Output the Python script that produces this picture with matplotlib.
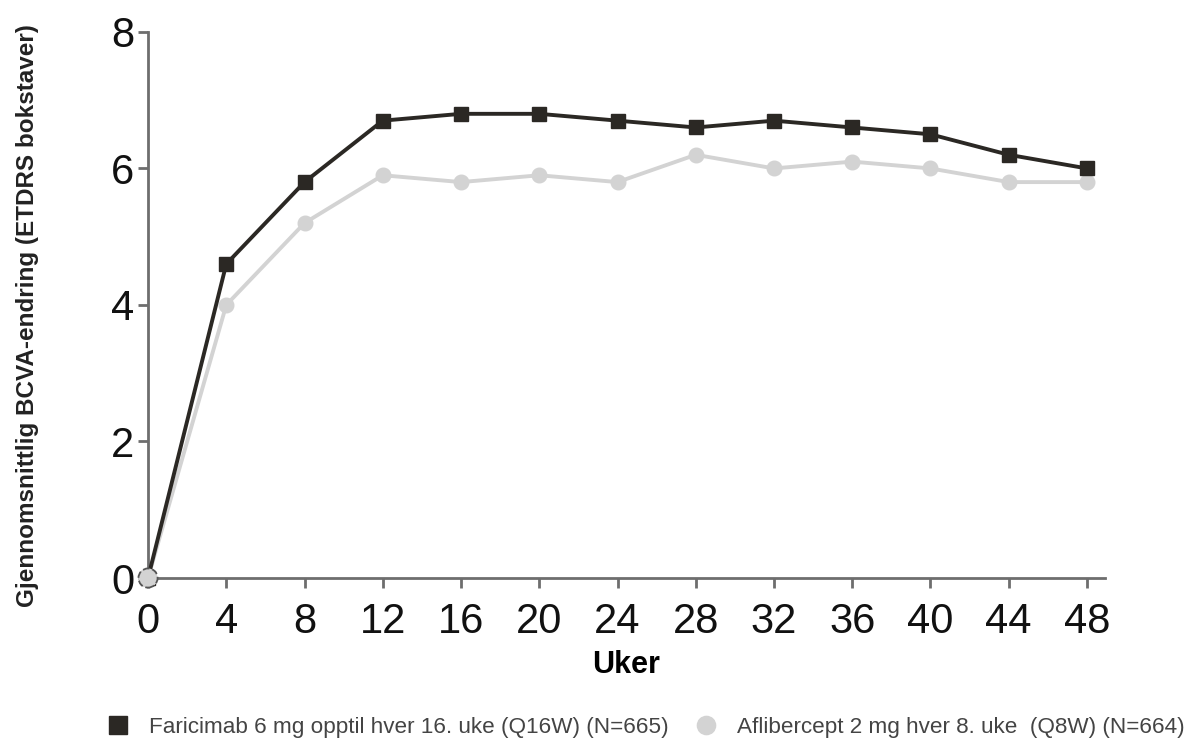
import matplotlib.pyplot as plt
import numpy as np

plt.rcParams['font.family'] = ['Liberation Sans', 'DejaVu Sans']

uker = [0, 4, 8, 12, 16, 20, 24, 28, 32, 36, 40, 44, 48]
faricimab = [0, 4.6, 5.8, 6.7, 6.8, 6.8, 6.7, 6.6, 6.7, 6.6, 6.5, 6.2, 6.0]
aflibercept = [0, 4.0, 5.2, 5.9, 5.8, 5.9, 5.8, 6.2, 6.0, 6.1, 6.0, 5.8, 5.8]

lab_far = 'Faricimab 6 mg opptil hver 16. uke (Q16W) (N=665)'
lab_afl = 'Aflibercept 2 mg hver 8. uke  (Q8W) (N=664)'

fig = plt.figure(figsize=(11.89, 7.42), dpi=100)
ax = fig.add_axes([0.1245, 0.221, 0.8045, 0.736])

ax.plot(uker, aflibercept, color='#d3d3d3', lw=2.8, marker='o', ms=10.5,
        label=lab_afl, zorder=2, clip_on=False)
ax.plot(uker, faricimab, color='#2b2824', lw=2.8, marker='s', ms=10.5,
        label=lab_far, zorder=3, clip_on=False)
# startpunkt: grå sirkel med stiplet kant
ax.scatter([uker[0]], [aflibercept[0]], s=190, color='#d3d3d3',
           edgecolors='#555555', linestyles='--', linewidths=1.3, zorder=4,
           clip_on=False)

ax.set_xlim(0, 48.9)
ax.set_ylim(0, 8)
ax.set_xticks(uker)
ax.set_yticks([0, 2, 4, 6, 8])
for s in ['top', 'right']:
    ax.spines[s].set_visible(False)
for s in ['left', 'bottom']:
    ax.spines[s].set_color('#6e6e6e')
    ax.spines[s].set_linewidth(2)
ax.tick_params(axis='both', labelsize=30, colors='#6e6e6e', width=2,
               length=7, labelcolor='#111111')
ax.tick_params(axis='x', pad=10)
ax.tick_params(axis='y', pad=3)

ax.set_xlabel('Uker', fontsize=22, fontweight='bold', labelpad=6)
ax.set_ylabel('Gjennomsnittlig BCVA-endring (ETDRS bokstaver)',
              fontsize=17.5, fontweight='bold')
ax.yaxis.set_label_coords(-0.114, 0.48)
ax.yaxis.label.set_color('#222222')

h, l = ax.get_legend_handles_labels()
leg = fig.legend([h[1], h[0]], [l[1], l[0]], loc='lower left', ncol=2,
                 frameon=False, fontsize=16.2, bbox_to_anchor=(0.0705, -0.022),
                 handlelength=1.2, handletextpad=0.8, columnspacing=1.05,
                 markerscale=1.25)
for t in leg.get_texts():
    t.set_color('#444444')
for lh in leg.legend_handles:
    lh.set_linestyle('none')

fig.savefig('out.png', dpi=100)
